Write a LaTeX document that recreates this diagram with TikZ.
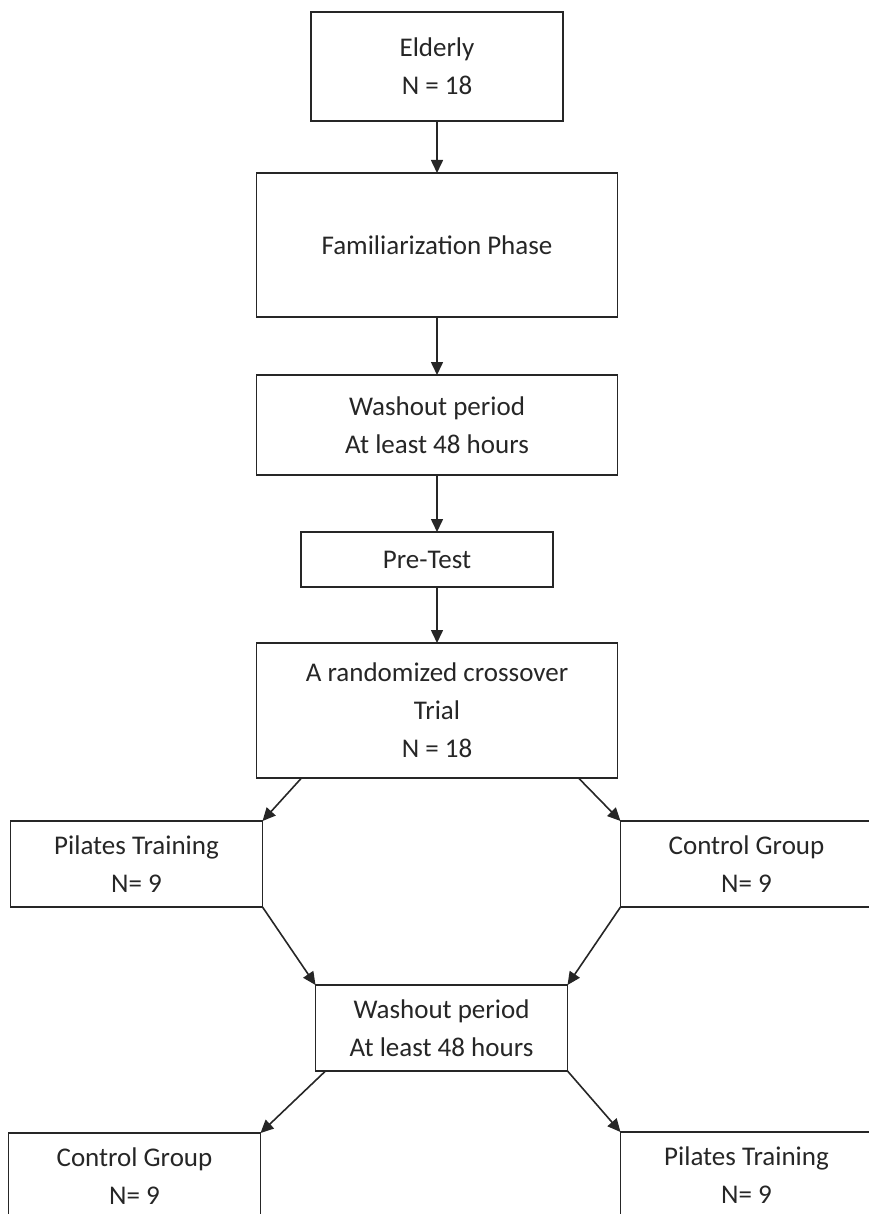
\documentclass[tikz,border=0pt]{standalone}
\usepackage{fontspec}
\setmainfont{Carlito}
\usepackage{tikz}
\usetikzlibrary{positioning, arrows.meta}
\tikzset{
->, % makes the edges directed
>={Triangle[length=13pt, width=12pt]}, % filled arrow heads as in the flow chart
box/.style={draw, rectangle, inner sep=0pt, outer sep=0pt, align=center, text=black!85,
  font=\fontsize{27pt}{38pt}\selectfont, minimum width=252pt, minimum height=86pt}, % small boxes
widebox/.style={box, minimum width=361pt}, % boxes of the middle column
}

\begin{document}
\begin{tikzpicture}[line width=1.6pt, draw=black!85]
                \useasboundingbox (0,0) rectangle (868pt,-1214pt);

                \node[box, minimum height=109pt] (elderly) at (437pt,-66.5pt) {Elderly\\N = 18};
                \node[widebox, minimum height=144pt, below=52pt of elderly] (famil) {Familiarization Phase};
                \node[widebox, minimum height=100pt, below=58pt of famil] (wash1) {Washout period\\At least 48 hours};
                \node[box, minimum height=55pt, below=57pt of wash1, xshift=-10pt] (pretest) {Pre-Test};
                \node[widebox, minimum height=135pt, below=56pt of pretest, xshift=10pt] (trial) {A randomized crossover\\Trial\\N = 18};

                \node[box, below left=43pt and -6pt of trial] (pilates1) {Pilates Training\\N= 9};
                \node[box, below right=43pt and 3pt of trial] (control1) {Control Group\\N= 9};
                \node[box, below right=78pt and 53pt of pilates1] (wash2) {Washout period\\At least 48 hours};
                \node[box, below left=62pt and 55pt of wash2] (control2) {Control Group\\N= 9};
                \node[box, below right=61pt and 53pt of wash2] (pilates2) {Pilates Training\\N= 9};

                \path
                    (elderly) edge (famil)
                    (famil) edge (wash1)
                    (wash1) edge (wash1.south |- pretest.north)
                    (pretest.south -| trial) edge (trial)
                    ([xshift=45pt]trial.south west) edge (pilates1.north east)
                    ([xshift=-39pt]trial.south east) edge (control1.north west)
                    (pilates1.south east) edge (wash2.north west)
                    (control1.south west) edge (wash2.north east)
                    ([xshift=10pt]wash2.south west) edge (control2.north east)
                    (wash2.south east) edge (pilates2.north west)
                    ;
                \end{tikzpicture}
\end{document}
